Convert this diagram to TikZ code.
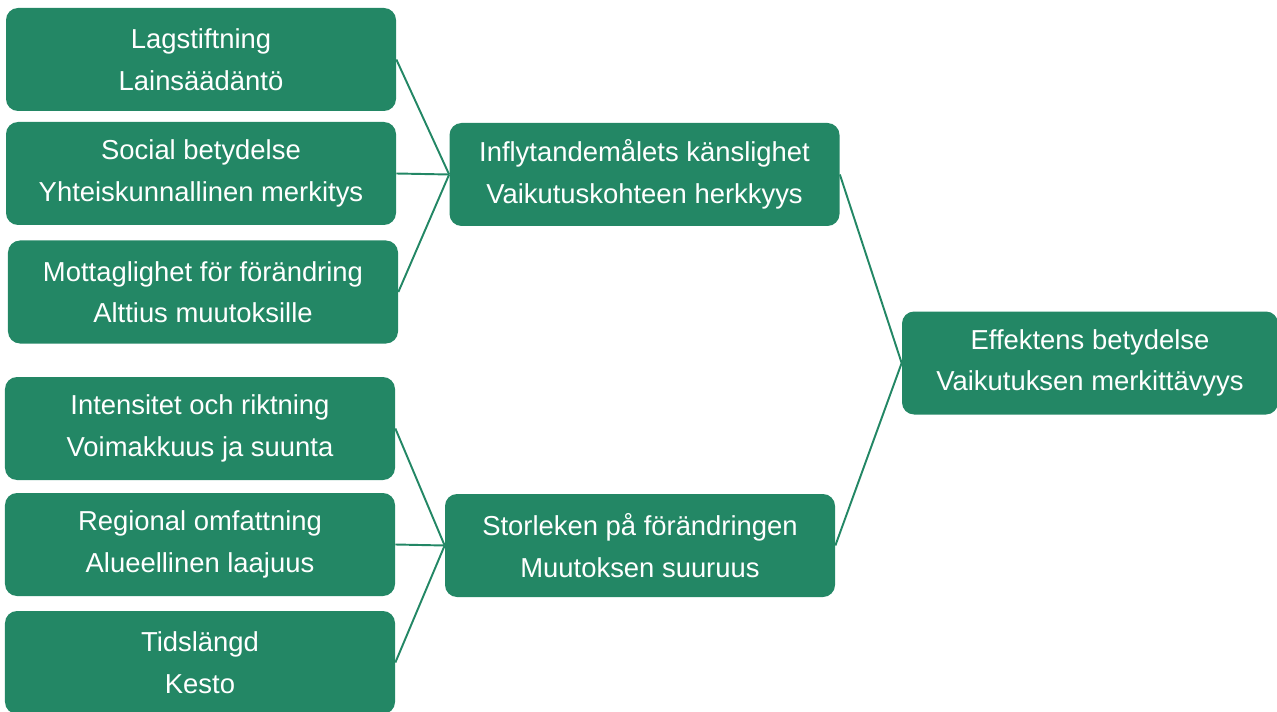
\documentclass[tikz,border=0pt]{standalone}
\usepackage{fontspec}
\setmainfont{Liberation Sans}
\definecolor{verde}{RGB}{35,135,101}
\tikzset{
  caja/.style={rectangle, rounded corners=0.24cm, fill=verde, text=white, inner sep=0pt,
    minimum width=7.8cm, minimum height=2.06cm, align=center,
    font=\fontsize{15.6}{23.6}\selectfont},
  enlace/.style={draw=verde, line width=1.1pt}
}
\begin{document}
\begin{tikzpicture}
        \useasboundingbox (0,0) rectangle (25.54,14.22);
        % Nivel 1
        \node[caja] (lag) at (4.02,13.03) {Lagstiftning\\Lainsäädäntö};
        \node[caja] (soc) at (4.02,10.75) {Social betydelse\\Yhteiskunnallinen merkitys};
        \node[caja] (mot) at (4.06,8.38) {Mottaglighet för förändring\\Alttius muutoksille};
        \node[caja] (int) at (4.00,5.65) {Intensitet och riktning\\Voimakkuus ja suunta};
        \node[caja] (reg) at (4.00,3.33) {Regional omfattning\\Alueellinen laajuus};
        \node[caja] (tid) at (4.00,0.97) {Tidslängd\\Kesto};
        % Nivel 2
        \node[caja] (inf) at (12.89,10.73) {Inflytandemålets känslighet\\Vaikutuskohteen herkkyys};
        \node[caja] (sto) at (12.80,3.31) {Storleken på förändringen\\Muutoksen suuruus};
        % Nivel 3
        \node[caja, minimum width=7.52cm] (eff) at (21.80,6.96) {Effektens betydelse\\Vaikutuksen merkittävyys};
        % Enlaces
        \draw[enlace] (lag.east) -- (inf.west);
        \draw[enlace] (soc.east) -- (inf.west);
        \draw[enlace] (mot.east) -- (inf.west);
        \draw[enlace] (int.east) -- (sto.west);
        \draw[enlace] (reg.east) -- (sto.west);
        \draw[enlace] (tid.east) -- (sto.west);
        \draw[enlace] (inf.east) -- (eff.west);
        \draw[enlace] (sto.east) -- (eff.west);
    \end{tikzpicture}
\end{document}
